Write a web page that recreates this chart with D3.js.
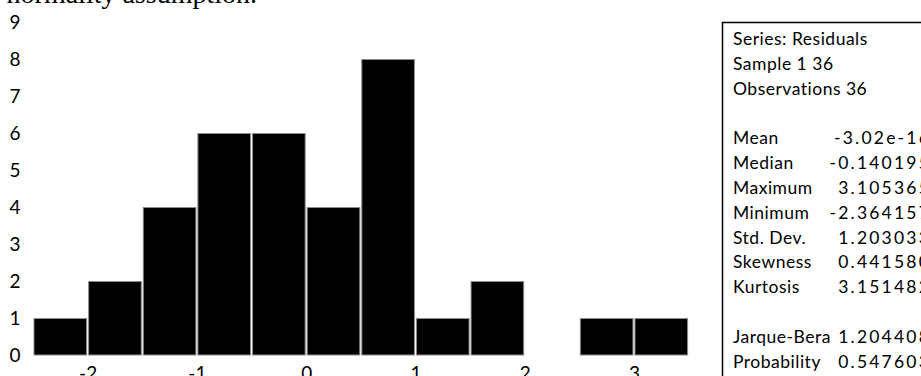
<!DOCTYPE html>
<html>
<head>
<meta charset="utf-8">
<script src="https://cdn.jsdelivr.net/npm/d3@7"></script>
<style>
  html, body { margin: 0; padding: 0; background: #fff; }
  svg { display: block; }
</style>
</head>
<body>
<svg id="chart" width="921" height="376"></svg>
<script>
// ---- data ----
const binStarts = [-2.5, -2.0, -1.5, -1.0, -0.5, 0.0, 0.5, 1.0, 1.5, 2.0, 2.5, 3.0];
const binEnds   = [-2.0, -1.5, -1.0, -0.5, 0.0, 0.5, 1.0, 1.5, 2.0, 2.5, 3.0, 3.5];
const counts    = [1, 2, 4, 6, 6, 4, 8, 1, 2, 0, 1, 1];
const xTicks = [-2, -1, 0, 1, 2, 3];
const yTicks = [0, 1, 2, 3, 4, 5, 6, 7, 8, 9];
const headerLines = ["Series: Residuals", "Sample 1 36", "Observations 36"];
const statLabels = ["Mean", "Median", "Maximum", "Minimum", "Std. Dev.", "Skewness", "Kurtosis", "", "Jarque-Bera", "Probability"];
const statValues = ["-3.02e-16", "-0.140195", "3.105365", "-2.364157", "1.203033", "0.441580", "3.151482", "", "1.204408", "0.547603"];
const captionText = "the normality assumption.";

// ---- drawing ----
const svg = d3.select("#chart");
const font = "Lato, 'Noto Sans', sans-serif";

const x = d3.scaleLinear().domain([-2.5, 3.5]).range([33, 688.6]);
const y = d3.scaleLinear().domain([0, 9]).range([355, 22]);

// caption fragment at top (cut off)
svg.append("text")
  .attr("x", 257).attr("y", 3)
  .attr("text-anchor", "end")
  .attr("font-family", "'Liberation Serif', 'Times New Roman', serif")
  .attr("font-size", 28)
  .attr("fill", "#000")
  .text(captionText);

// bars
const bins = binStarts.map((s, i) => ({ lo: s, hi: binEnds[i], n: counts[i] })).filter(d => d.n > 0);
svg.append("g").selectAll("rect").data(bins).join("rect")
  .attr("x", d => x(d.lo) + 1)
  .attr("width", d => x(d.hi) - x(d.lo) - 2)
  .attr("y", d => y(d.n) + 0.5)
  .attr("height", d => y(0) - y(d.n) - 0.5)
  .attr("fill", "#000")
  .attr("stroke", "#8c8c8c")
  .attr("stroke-width", 1);

// x axis
const gx = svg.append("g")
  .attr("transform", `translate(0,${y(0)})`)
  .call(d3.axisBottom(x).tickValues(xTicks).tickSize(0).tickPadding(12).tickFormat(d => String(d)));
gx.select(".domain").remove();
gx.selectAll("text").attr("font-family", font).attr("font-size", 19).attr("fill", "#000");

// y axis
const gy = svg.append("g")
  .attr("transform", `translate(33,0)`)
  .call(d3.axisLeft(y).tickValues(yTicks).tickSize(0).tickPadding(18).tickFormat(d => String(d)));
gy.select(".domain").remove();
gy.selectAll("text").attr("font-family", font).attr("font-size", 19).attr("fill", "#000")
  .attr("text-anchor", "middle");

// stats box
svg.append("rect")
  .attr("x", 722.5).attr("y", 22.5)
  .attr("width", 400).attr("height", 400)
  .attr("fill", "none").attr("stroke", "#000").attr("stroke-width", 1.5);

const rowH = 24.8, row0 = 39;
const box = svg.append("g").attr("font-family", font).attr("font-size", 17.5).attr("fill", "#000");
headerLines.forEach((t, i) => {
  box.append("text").attr("x", 733).attr("y", row0 + i * rowH).attr("dy", "0.35em")
    .attr("letter-spacing", 0.5).text(t);
});
statLabels.forEach((t, i) => {
  if (!t) return;
  const yy = row0 + (i + 4) * rowH;
  box.append("text").attr("x", 733).attr("y", yy).attr("dy", "0.35em")
    .attr("letter-spacing", 0.5).text(t);
  box.append("text").attr("x", 931).attr("y", yy).attr("dy", "0.35em")
    .attr("text-anchor", "end").attr("letter-spacing", 2.2).text(statValues[i]);
});
</script>
</body>
</html>
